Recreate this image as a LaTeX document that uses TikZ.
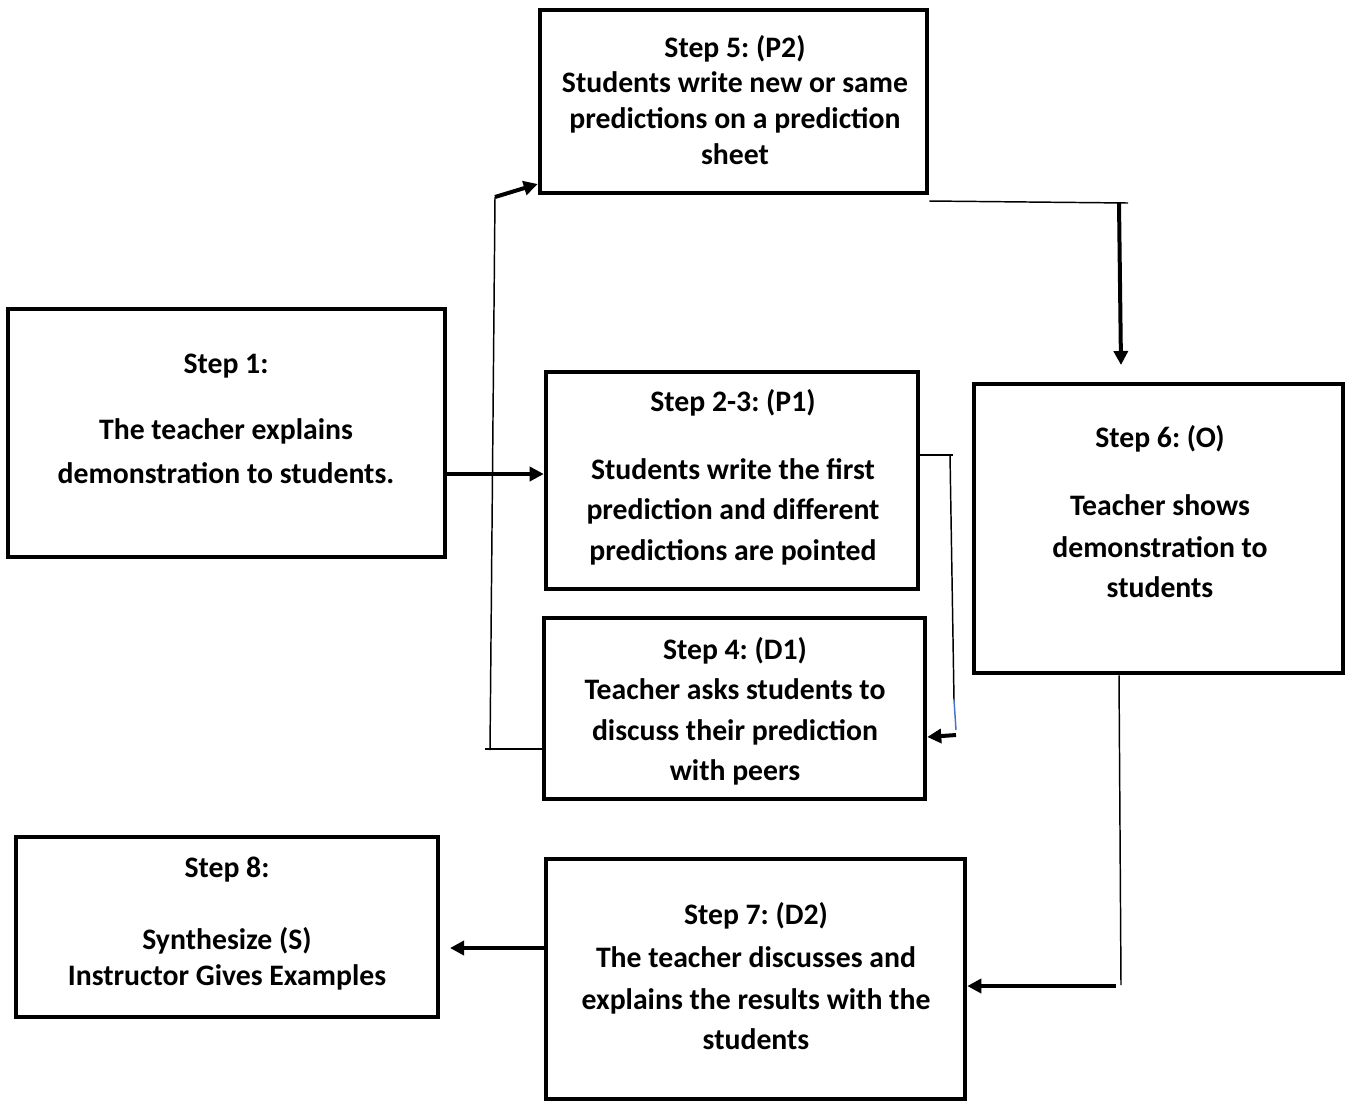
\documentclass[tikz,border=0pt]{standalone}
\usepackage{fontspec}
\setmainfont{Carlito}
\usetikzlibrary{arrows.meta}
\definecolor{wordblue}{RGB}{68,114,196}
\frenchspacing
\begin{document}
\begin{tikzpicture}[x=0.75pt,y=-0.75pt,
  stepbox/.style 2 args={draw, line width=3.4pt, minimum width=#1*0.75pt,
    minimum height=#2*0.75pt, inner sep=0pt},
  steptext/.style={anchor=base, inner sep=0pt, font=\fontsize{22.3}{27}\selectfont\bfseries},
  arr/.style={line width=3pt, -{Triangle[length=10.5pt,width=10.5pt]}},
  link/.style={line width=1.1pt}]
\useasboundingbox (0,0) rectangle (1352,1101);

% step boxes
\node[stepbox={387}{183}] (s5)  at (733.5,101.5) {};
\node[stepbox={437}{248}] (s1)  at (226.5,433) {};
\node[stepbox={372}{217}] (s23) at (732,480.5) {};
\node[stepbox={381}{181}] (s4)  at (734.5,708.5) {};
\node[stepbox={369}{289}] (s6)  at (1158.5,528.5) {};
\node[stepbox={422}{180}] (s8)  at (227,927) {};
\node[stepbox={419}{240}] (s7)  at (755.5,979) {};

% box texts, one node per line (baseline positions)
\foreach \txt/\yy [count=\i] in {Step 5: (P2)/48, Students write new or same/83,
    predictions on a prediction/119, sheet/155}
  \node[steptext] (t5-\i) at (735,\yy+9) {\txt};
\foreach \txt/\yy [count=\i] in {Step 1:/364, The teacher explains/430,
    demonstration to students./474}
  \node[steptext] (t1-\i) at (226,\yy+9) {\txt};
\foreach \txt/\yy [count=\i] in {Step 2-3: (P1)/402, Students write the first/470,
    prediction and different/510, predictions are pointed/551}
  \node[steptext] (t23-\i) at (733,\yy+9) {\txt};
\foreach \txt/\yy [count=\i] in {Step 4: (D1)/650, Teacher asks students to/690,
    discuss their prediction/731, with peers/771}
  \node[steptext] (t4-\i) at (735,\yy+9) {\txt};
\foreach \txt/\yy [count=\i] in {Step 6: (O)/438, Teacher shows/506,
    demonstration to/548, students/588}
  \node[steptext] (t6-\i) at (1160,\yy+9) {\txt};
\foreach \txt/\yy [count=\i] in {Step 8:/868, Synthesize (S)/940,
    Instructor Gives Examples/976}
  \node[steptext] (t8-\i) at (227,\yy+9) {\txt};
\foreach \txt/\yy [count=\i] in {Step 7: (D2)/915, The teacher discusses and/958,
    explains the results with the/1000, students/1040}
  \node[steptext] (t7-\i) at (756,\yy+9) {\txt};

% routing points
\coordinate (a1) at (485,749);
\coordinate (a2) at (490,750);
\coordinate (a3) at (495,197);
\coordinate (b1) at (1128,203);
\coordinate (b2) at (1119,203);
\coordinate (b3) at (1121,365);
\coordinate (c1) at (953,455);
\coordinate (c2) at (950,455);
\coordinate (c3) at (954,700);
\coordinate (c4) at (956,730);
\coordinate (c5) at (956,735);
\coordinate (d1) at (1119,673);
\coordinate (d2) at (1121,985);
\coordinate (d3) at (1116,986);
\coordinate (e1) at (450,948);

% step 1 -> step 2-3
\draw[arr] (s1.east |- 0,474) -- (s23.west |- 0,474);
% step 4 -> step 5
\draw[link] (s4.west |- 0,749) -- (a1);
\draw[link] (a2) -- (a3);
\draw[arr] (a3) -- (s5.west |- 0,184);
% step 5 -> step 6
\draw[link] (s5.south east |- 0,201) -- (b1);
\draw[arr] (b2) -- (b3);
% step 2-3 -> step 4
\draw[link] (s23.east |- 0,455) -- (c1);
\draw[link] (c2) -- (c3);
\draw[link, wordblue] (c3) -- (c4);
\draw[arr] (c5) -- (s4.east |- 0,737);
% step 6 -> step 7
\draw[link] (s6.south -| d1) -- (d2);
\draw[arr] (d3) -- (s7.east |- 0,986);
% step 7 -> step 8
\draw[arr] (s7.west |- 0,948) -- (e1);
\end{tikzpicture}
\end{document}
